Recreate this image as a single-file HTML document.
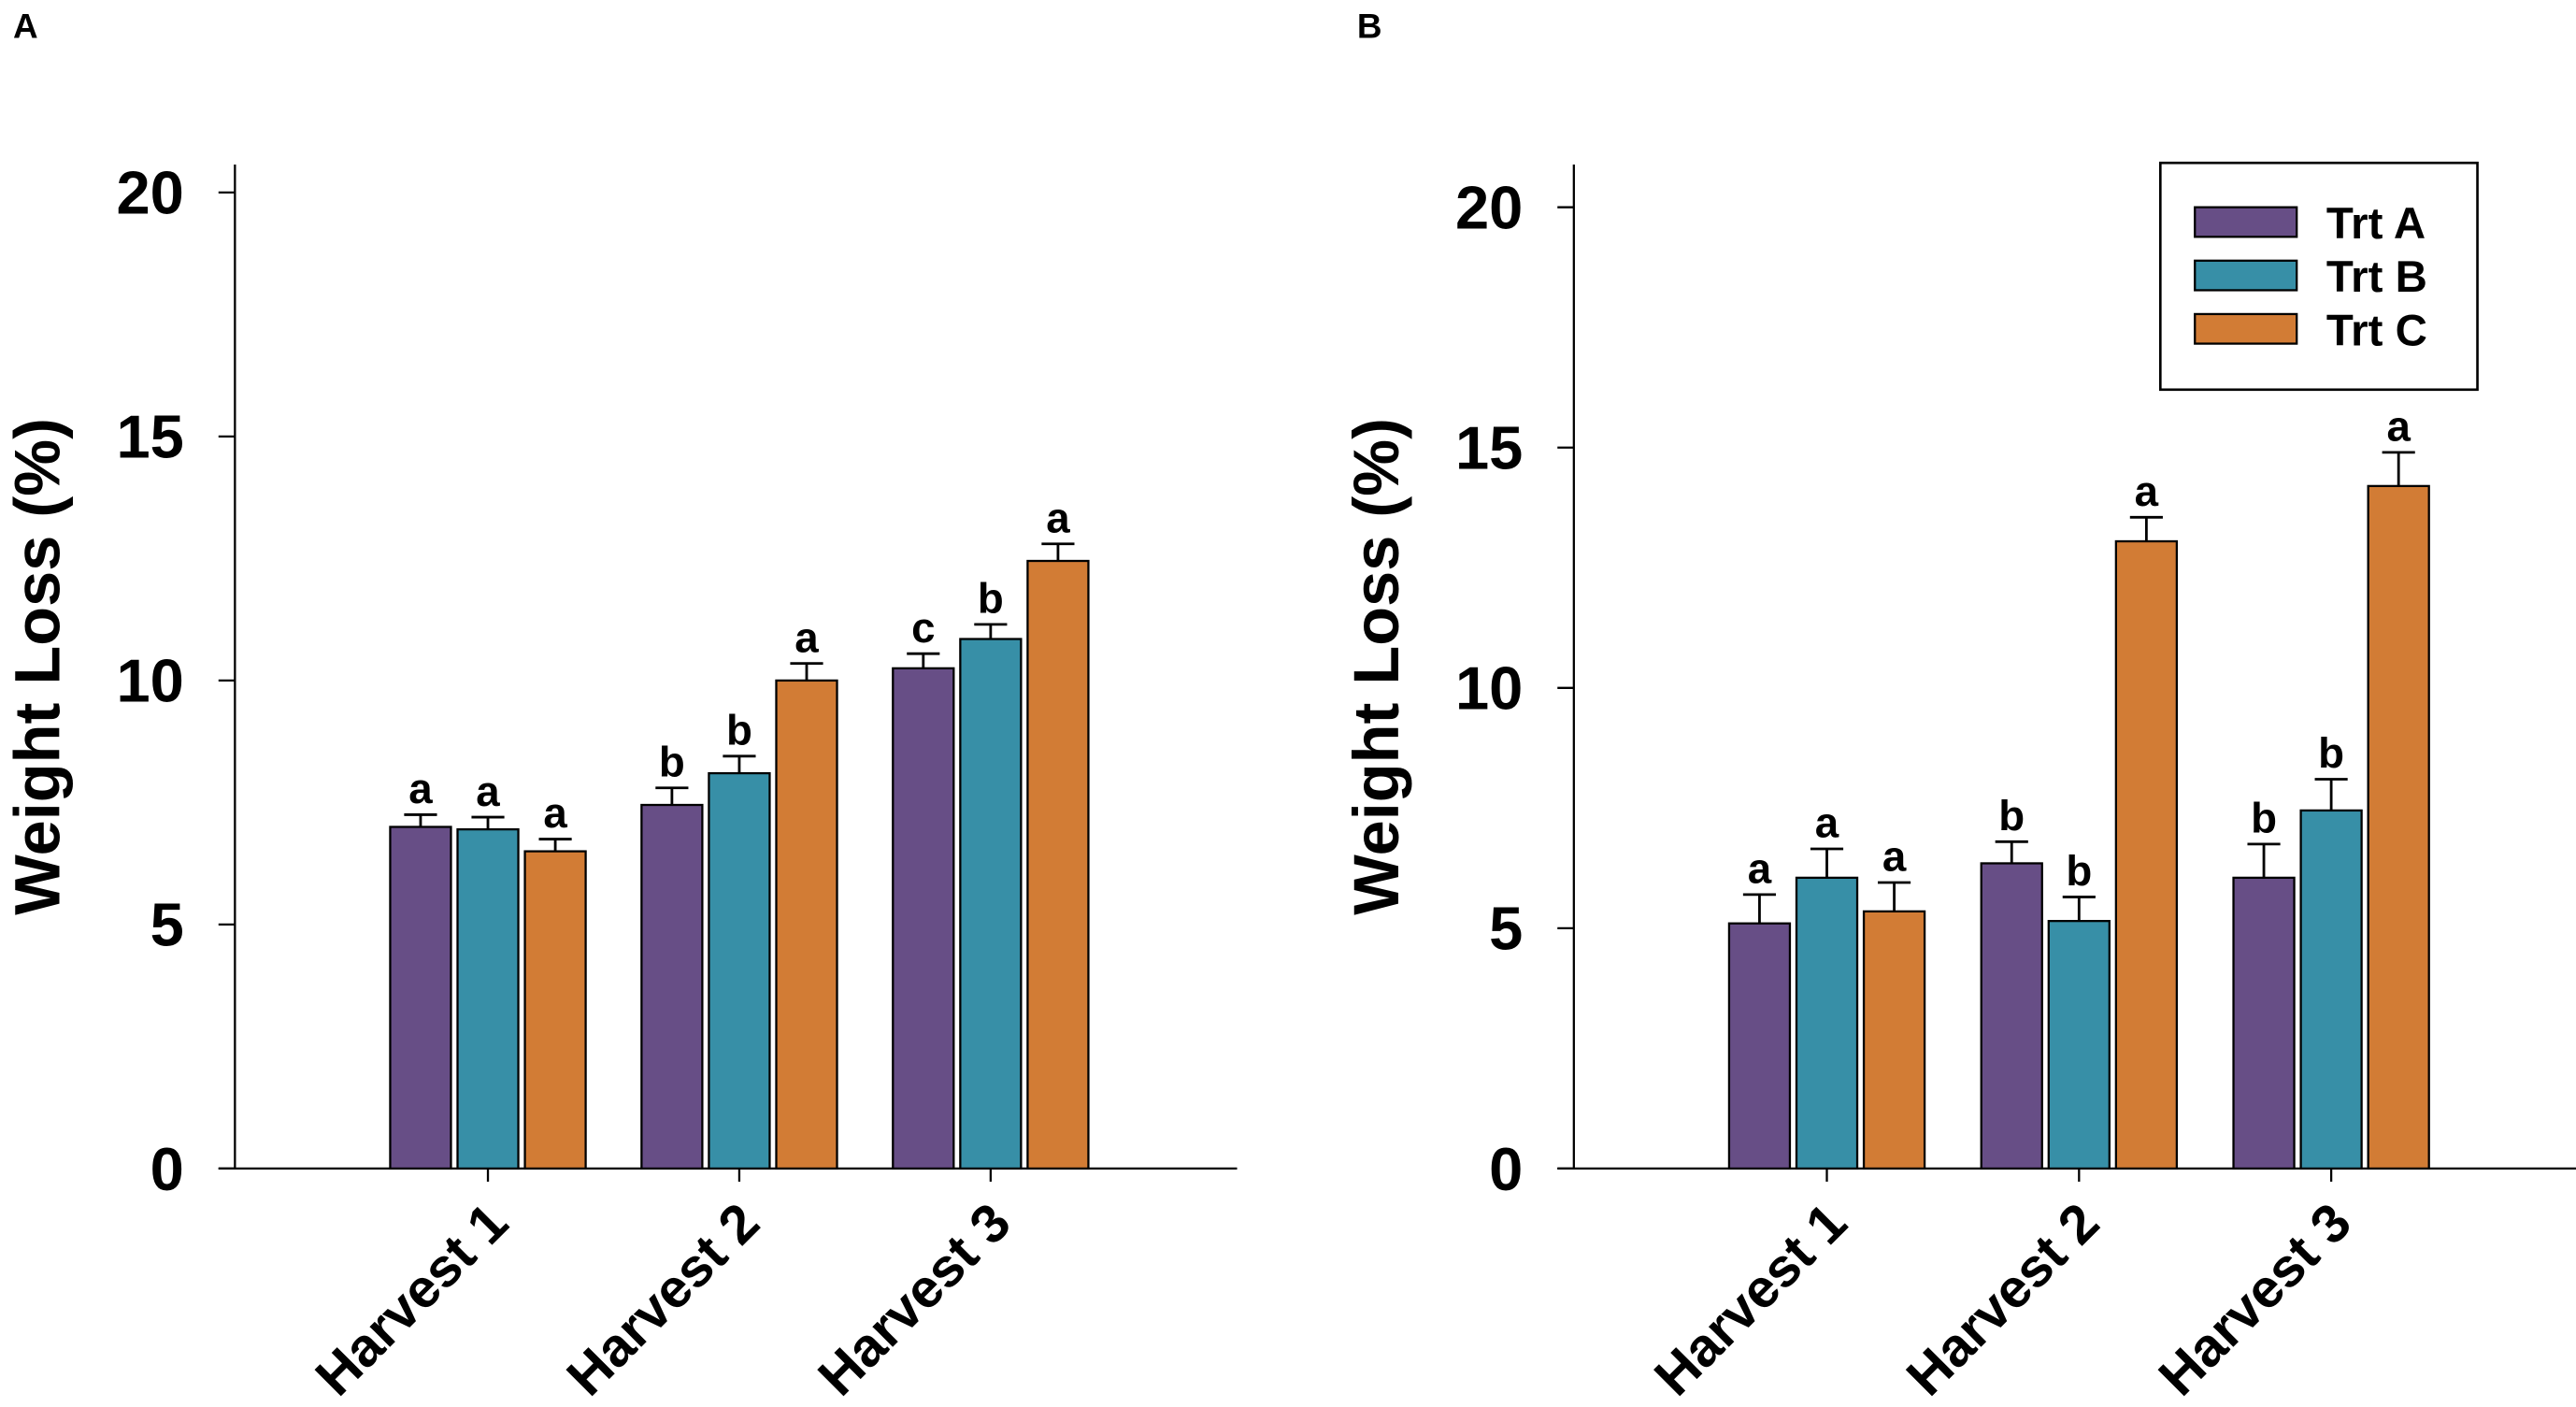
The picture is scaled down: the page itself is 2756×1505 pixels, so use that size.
<!DOCTYPE html>
<html><head><meta charset="utf-8"><style>
html,body{margin:0;padding:0;background:#fff}
svg{display:block}
text{font-family:"Liberation Sans",Arial,sans-serif;font-weight:bold;fill:#000}
</style></head><body>
<svg id="fig" width="2756" height="1505" viewBox="0 0 1568 856" xmlns="http://www.w3.org/2000/svg"></svg>
<script>
const categories = ["Harvest 1","Harvest 2","Harvest 3"];
const seriesNames = ["Trt A","Trt B","Trt C"];
const colors = ["#674E86","#378FA7","#D27C35"];
const yTicks = [0,5,10,15,20];
const aValues = [[7.0,6.95,6.5],[7.45,8.1,10.0],[10.25,10.85,12.45]];
const aErrors = [[0.25,0.25,0.25],[0.35,0.35,0.35],[0.3,0.3,0.35]];
const aLetters = [["a","a","a"],["b","b","a"],["c","b","a"]];
const bValues = [[5.1,6.05,5.35],[6.35,5.15,13.05],[6.05,7.45,14.2]];
const bErrors = [[0.6,0.6,0.6],[0.45,0.5,0.5],[0.7,0.65,0.7]];
const bLetters = [["a","a","a"],["b","b","a"],["b","b","a"]];

const NS="http://www.w3.org/2000/svg";
const svg=document.getElementById('fig');
function mk(tag,attrs,parent){const e=document.createElementNS(NS,tag);for(const k in attrs)e.setAttribute(k,attrs[k]);(parent||svg).appendChild(e);return e;}

function panel(cfg){
  const g=mk('g',{});
  
  
  const y=v=>cfg.y0-(cfg.y0-cfg.y20)*v/20;
  const x=i=>cfg.c0+i*cfg.step;
  const pl=mk('text',{x:cfg.labelX,y:23,'font-size':21},g);pl.textContent=cfg.panelLabel;
  
  
  const ya=mk('line',{x1:cfg.ax,y1:100,x2:cfg.ax,y2:cfg.y0,stroke:'#000','stroke-width':1.3},g);
  
  
  const xa=mk('line',{x1:cfg.ax-10,y1:cfg.y0,x2:cfg.xEnd,y2:cfg.y0,stroke:'#000','stroke-width':1.3},g);
  
  
  yTicks.forEach(t=>{
    mk('line',{x1:cfg.ax-10,y1:y(t),x2:cfg.ax,y2:y(t),stroke:'#000','stroke-width':1.3},g);
    const tl=mk('text',{x:cfg.ax-31,y:y(t)+13,'font-size':37,'text-anchor':'end'},g);tl.textContent=t;
    
    
  });
  const yt=mk('text',{x:0,y:0,'font-size':39,'text-anchor':'middle',transform:`translate(${cfg.ax-107},${(cfg.y0+100)/2}) rotate(-90)`},g);
  yt.textContent='Weight Loss (%)';
  
  
  categories.forEach((c,i)=>{
    const cx=x(i);
    mk('line',{x1:cx,y1:cfg.y0,x2:cx,y2:cfg.y0+8,stroke:'#000','stroke-width':1.3},g);
    const xl=mk('text',{x:0,y:0,'font-size':33,'text-anchor':'end',transform:`translate(${cx+14},${cfg.y0+35}) rotate(-45)`},g);
    xl.textContent=c;
    
    
    seriesNames.forEach((s,j)=>{
      const bw=37, bx=cx+(j-1)*41-bw/2, v=cfg.values[i][j], e=cfg.errors[i][j];
      const r=mk('rect',{x:bx,y:y(v),width:bw,height:cfg.y0-y(v),fill:colors[j],stroke:'#000','stroke-width':1.3},g);
      
      
      const bc=bx+bw/2;
      mk('line',{x1:bc,y1:y(v),x2:bc,y2:y(v+e),stroke:'#000','stroke-width':1.6},g);
      mk('line',{x1:bc-10,y1:y(v+e),x2:bc+10,y2:y(v+e),stroke:'#000','stroke-width':1.6},g);
      const lt=mk('text',{x:bc,y:y(v+e)-7,'font-size':26,'text-anchor':'middle'},g);
      lt.textContent=cfg.letters[i][j];
      
      
    });
  });
}
panel({name:'panel-a',panelLabel:'A',labelX:8,ax:143,y0:711,y20:117,c0:297,step:153,xEnd:753,values:aValues,errors:aErrors,letters:aLetters});
panel({name:'panel-b',panelLabel:'B',labelX:826,ax:958,y0:711,y20:126,c0:1112,step:153.5,xEnd:1568,values:bValues,errors:bErrors,letters:bLetters});

const lg=mk('g',{});


mk('rect',{x:1315,y:99,width:193,height:138,fill:'#fff',stroke:'#000','stroke-width':1.5},lg);
seriesNames.forEach((s,j)=>{
  const cy=135+j*32.5;
  const sw=mk('rect',{x:1336,y:cy-9,width:62,height:18,fill:colors[j],stroke:'#000','stroke-width':1.3},lg);
  
  
  const t=mk('text',{x:1416,y:cy+10,'font-size':27},lg);t.textContent=s;
  
  
});
</script>
</body></html>
